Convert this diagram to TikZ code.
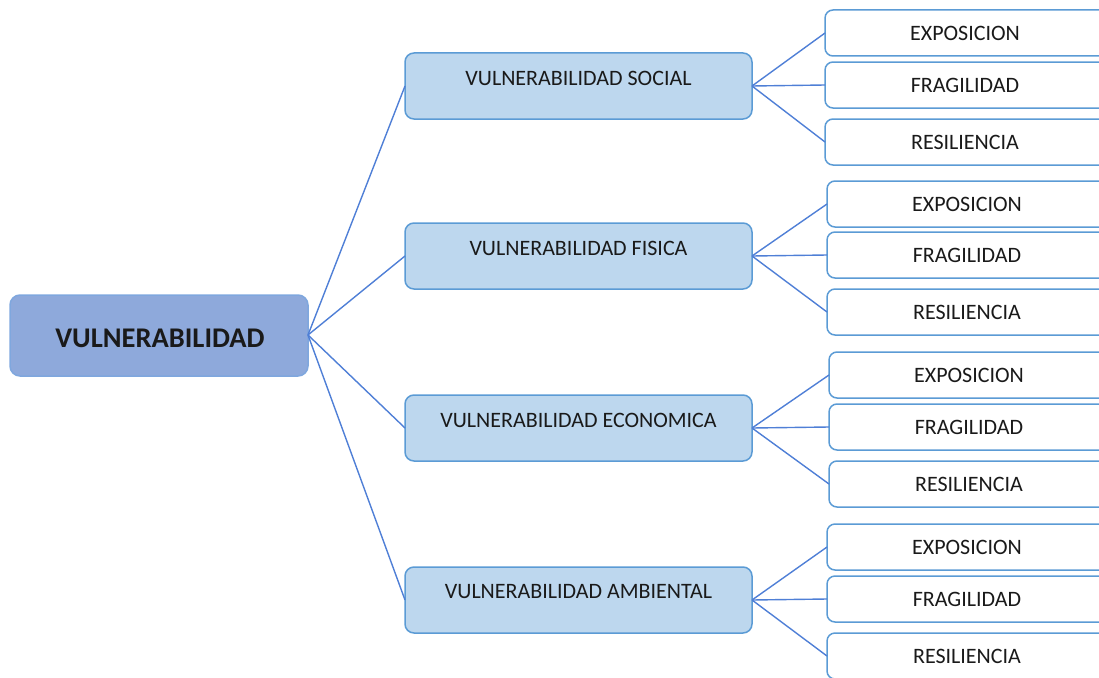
\documentclass[tikz,border=0pt]{standalone}
\usepackage{fontspec}
\setmainfont{Carlito}
\definecolor{rootfill}{HTML}{8EA9DB}
\definecolor{rootdraw}{HTML}{7FA7DE}
\definecolor{midfill}{HTML}{BDD7EE}
\definecolor{boxdraw}{HTML}{5B9BD5}
\definecolor{linec}{HTML}{4F7FD6}
\definecolor{txt}{HTML}{1A1A1A}
\tikzset{
  rootbox/.style={draw=rootdraw, fill=rootfill, line width=1.5pt, rounded corners=10pt},
  midbox/.style={draw=boxdraw, fill=midfill, line width=1.5pt, rounded corners=9pt},
  leafbox/.style={draw=boxdraw, fill=white, line width=1.5pt, rounded corners=8pt},
  conn/.style={draw=linec, line width=1.4pt},
  rtext/.style={font=\fontsize{28.5}{32}\selectfont\bfseries, text=txt},
  mtext/.style={font=\fontsize{22}{26}\selectfont, text=txt},
  ltext/.style={font=\fontsize{22}{26}\selectfont, text=txt},
}
\begin{document}
\begin{tikzpicture}[x=1pt,y=-1pt]
\useasboundingbox (0,0) rectangle (1099,677);
\begin{scope}
\clip (0,0) rectangle (1099,677);
% root
\draw[rootbox] (10,295) rectangle (308,376);
\node[rtext] (root) at (160,338) {VULNERABILIDAD};
\coordinate (r) at (308,335);
% mid boxes
\foreach \name/\y/\lab in {soc/53/VULNERABILIDAD SOCIAL, fis/223/VULNERABILIDAD FISICA, eco/395/VULNERABILIDAD ECONOMICA, amb/567/VULNERABILIDAD AMBIENTAL}{
  \draw[midbox] (405,\y) rectangle (752,\y+66);
  \node[mtext] (\name) at (578.5,\y+25) {\lab};
  \coordinate (\name-in) at (405,\y+33);
  \coordinate (\name-out) at (752,\y+33);
}
% leaf boxes
\foreach \g/\x/\ya/\yb/\yc in {soc/825/10/62/119, fis/827/181/232/289, eco/829/352/404/461, amb/827/524/576/633}{
  \draw[leafbox] (\x,\ya) rectangle (\x+285,\ya+46);
  \node[ltext] (\g-exp) at (\x+140,\ya+23) {EXPOSICION};
  \draw[leafbox] (\x,\yb) rectangle (\x+285,\yb+46);
  \node[ltext] (\g-fra) at (\x+140,\yb+23) {FRAGILIDAD};
  \draw[leafbox] (\x,\yc) rectangle (\x+285,\yc+46);
  \node[ltext] (\g-res) at (\x+140,\yc+23) {RESILIENCIA};
  \coordinate (\g-expL) at (\x,\ya+23);
  \coordinate (\g-fraL) at (\x,\yb+23);
  \coordinate (\g-resL) at (\x,\yc+23);
}
\foreach \g in {soc,fis,eco,amb}{
  \draw[conn] (r) -- (\g-in);
  \draw[conn] (\g-out) -- (\g-expL);
  \draw[conn] (\g-out) -- (\g-fraL);
  \draw[conn] (\g-out) -- (\g-resL);
}
\end{scope}
\end{tikzpicture}
\end{document}
